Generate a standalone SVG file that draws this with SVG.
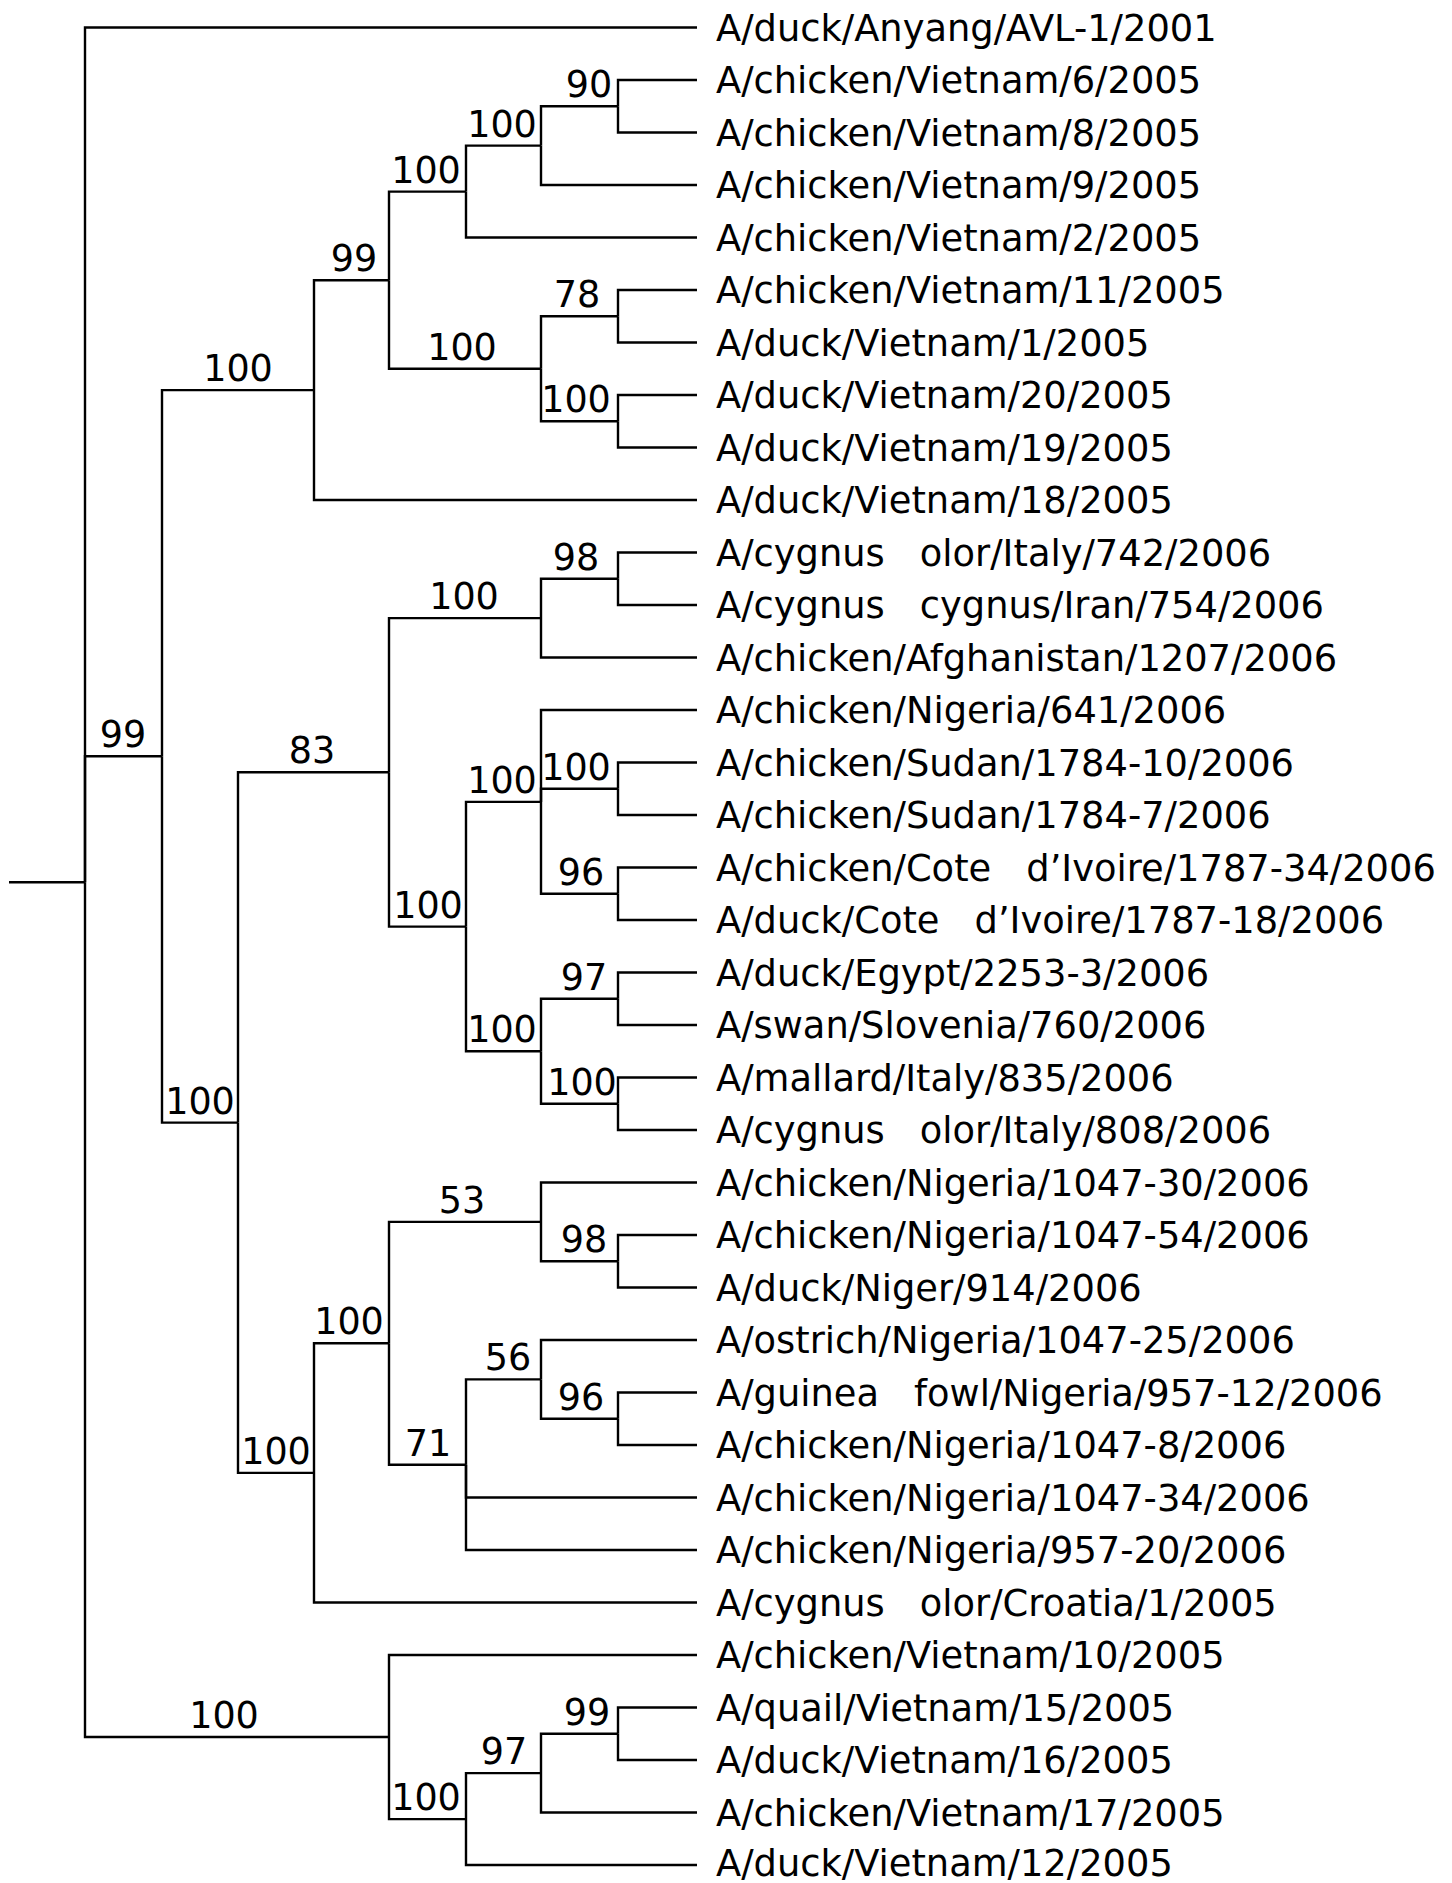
<svg xmlns="http://www.w3.org/2000/svg" width="1452" height="1883" viewBox="0 0 1452 1883">
<style>
.e{fill:none;stroke:#000;stroke-width:2.4;stroke-linecap:butt;stroke-linejoin:miter}
text{font-family:"DejaVu Sans","Liberation Sans",sans-serif;font-size:36.8px;fill:#000;white-space:pre}
.s{text-anchor:middle;font-size:36.5px}
</style>
<rect width="1452" height="1883" fill="#fff"/>
<g id="connectors">
<path class="e" d="M9 882.3H85"/>
<path class="e" d="M85 882.3V27.5H697"/>
<path class="e" d="M85 882.3V756.3H162"/>
<path class="e" d="M85 882.3V1737H389"/>
<path class="e" d="M162 756.3V390.1H314"/>
<path class="e" d="M162 756.3V1122.6H238"/>
<path class="e" d="M314 390.1V280.2H389"/>
<path class="e" d="M314 390.1V500H697"/>
<path class="e" d="M389 280.2V191.6H466"/>
<path class="e" d="M389 280.2V368.75H541"/>
<path class="e" d="M466 191.6V145.6H541"/>
<path class="e" d="M466 191.6V237.5H697"/>
<path class="e" d="M541 145.6V106.25H618"/>
<path class="e" d="M541 145.6V185H697"/>
<path class="e" d="M618 106.25V80H697"/>
<path class="e" d="M618 106.25V132.5H697"/>
<path class="e" d="M541 368.75V316.25H618"/>
<path class="e" d="M541 368.75V421.25H618"/>
<path class="e" d="M618 316.25V290H697"/>
<path class="e" d="M618 316.25V342.5H697"/>
<path class="e" d="M618 421.25V395H697"/>
<path class="e" d="M618 421.25V447.5H697"/>
<path class="e" d="M238 1122.6V772.3H389"/>
<path class="e" d="M238 1122.6V1472.9H314"/>
<path class="e" d="M389 772.3V618.1H541"/>
<path class="e" d="M389 772.3V926.6H466"/>
<path class="e" d="M541 618.1V578.75H618"/>
<path class="e" d="M541 618.1V657.5H697"/>
<path class="e" d="M618 578.75V552.5H697"/>
<path class="e" d="M618 578.75V605H697"/>
<path class="e" d="M466 926.6V801.9H541"/>
<path class="e" d="M466 926.6V1051.25H541"/>
<path class="e" d="M541 801.9V710H697"/>
<path class="e" d="M541 801.9V788.75H618"/>
<path class="e" d="M541 801.9V893.75H618"/>
<path class="e" d="M618 788.75V762.5H697"/>
<path class="e" d="M618 788.75V815H697"/>
<path class="e" d="M618 893.75V867.5H697"/>
<path class="e" d="M618 893.75V920H697"/>
<path class="e" d="M541 1051.25V998.75H618"/>
<path class="e" d="M541 1051.25V1103.75H618"/>
<path class="e" d="M618 998.75V972.5H697"/>
<path class="e" d="M618 998.75V1025H697"/>
<path class="e" d="M618 1103.75V1077.5H697"/>
<path class="e" d="M618 1103.75V1130H697"/>
<path class="e" d="M314 1472.9V1343.3H389"/>
<path class="e" d="M314 1472.9V1602.5H697"/>
<path class="e" d="M389 1343.3V1221.9H541"/>
<path class="e" d="M389 1343.3V1464.7H466"/>
<path class="e" d="M541 1221.9V1182.5H697"/>
<path class="e" d="M541 1221.9V1261.25H618"/>
<path class="e" d="M618 1261.25V1235H697"/>
<path class="e" d="M618 1261.25V1287.5H697"/>
<path class="e" d="M466 1464.7V1379.4H541"/>
<path class="e" d="M466 1464.7V1497.5H697"/>
<path class="e" d="M466 1464.7V1550H697"/>
<path class="e" d="M541 1379.4V1340H697"/>
<path class="e" d="M541 1379.4V1418.75H618"/>
<path class="e" d="M618 1418.75V1392.5H697"/>
<path class="e" d="M618 1418.75V1445H697"/>
<path class="e" d="M389 1737V1655H697"/>
<path class="e" d="M389 1737V1819.1H466"/>
<path class="e" d="M466 1819.1V1773.1H541"/>
<path class="e" d="M466 1819.1V1865H697"/>
<path class="e" d="M541 1773.1V1733.75H618"/>
<path class="e" d="M541 1773.1V1812.5H697"/>
<path class="e" d="M618 1733.75V1707.5H697"/>
<path class="e" d="M618 1733.75V1760H697"/>
</g>
<g id="supports">
<g id="nA"><text class="s" x="123" y="747.3">99</text></g>
<g id="nB"><text class="s" x="238" y="381.1">100</text></g>
<g id="nD"><text class="s" x="354" y="271.2">99</text></g>
<g id="nE"><text class="s" x="426" y="182.6">100</text></g>
<g id="nG"><text class="s" x="502" y="136.6">100</text></g>
<g id="nH"><text class="s" x="589" y="97.25">90</text></g>
<g id="nF"><text class="s" x="462" y="359.75">100</text></g>
<g id="nI"><text class="s" x="577" y="307.25">78</text></g>
<g id="nJ"><text class="s" x="576" y="412.25">100</text></g>
<g id="nC"><text class="s" x="200" y="1113.6">100</text></g>
<g id="nK"><text class="s" x="312" y="763.3">83</text></g>
<g id="nM"><text class="s" x="464" y="609.1">100</text></g>
<g id="nO"><text class="s" x="576" y="569.75">98</text></g>
<g id="nN"><text class="s" x="428" y="917.6">100</text></g>
<g id="nP"><text class="s" x="502" y="792.9">100</text></g>
<g id="nR"><text class="s" x="576" y="779.75">100</text></g>
<g id="nS"><text class="s" x="581" y="884.75">96</text></g>
<g id="nQ"><text class="s" x="502" y="1042.25">100</text></g>
<g id="nT"><text class="s" x="584" y="989.75">97</text></g>
<g id="nU"><text class="s" x="582" y="1094.75">100</text></g>
<g id="nL"><text class="s" x="276" y="1463.9">100</text></g>
<g id="nV"><text class="s" x="349" y="1334.3">100</text></g>
<g id="nW"><text class="s" x="462" y="1212.9">53</text></g>
<g id="nY"><text class="s" x="584" y="1252.25">98</text></g>
<g id="nX"><text class="s" x="428" y="1455.7">71</text></g>
<g id="nAA"><text class="s" x="508" y="1370.4">56</text></g>
<g id="nBB"><text class="s" x="581" y="1409.75">96</text></g>
<g id="nZ"><text class="s" x="224" y="1728">100</text></g>
<g id="nCC"><text class="s" x="426" y="1810.1">100</text></g>
<g id="nDD"><text class="s" x="504" y="1764.1">97</text></g>
<g id="nEE"><text class="s" x="587" y="1724.75">99</text></g>
</g>
<g id="leaves">
<g id="leaf1"><text x="716" y="40.5">A/duck/Anyang/AVL-1/2001</text></g>
<g id="leaf2"><text x="716" y="93">A/chicken/Vietnam/6/2005</text></g>
<g id="leaf3"><text x="716" y="145.5">A/chicken/Vietnam/8/2005</text></g>
<g id="leaf4"><text x="716" y="198">A/chicken/Vietnam/9/2005</text></g>
<g id="leaf5"><text x="716" y="250.5">A/chicken/Vietnam/2/2005</text></g>
<g id="leaf6"><text x="716" y="303">A/chicken/Vietnam/11/2005</text></g>
<g id="leaf7"><text x="716" y="355.5">A/duck/Vietnam/1/2005</text></g>
<g id="leaf8"><text x="716" y="408">A/duck/Vietnam/20/2005</text></g>
<g id="leaf9"><text x="716" y="460.5">A/duck/Vietnam/19/2005</text></g>
<g id="leaf10"><text x="716" y="513">A/duck/Vietnam/18/2005</text></g>
<g id="leaf11"><text x="716" y="565.5" xml:space="preserve">A/cygnus   olor/Italy/742/2006</text></g>
<g id="leaf12"><text x="716" y="618" xml:space="preserve">A/cygnus   cygnus/Iran/754/2006</text></g>
<g id="leaf13"><text x="716" y="670.5">A/chicken/Afghanistan/1207/2006</text></g>
<g id="leaf14"><text x="716" y="723">A/chicken/Nigeria/641/2006</text></g>
<g id="leaf15"><text x="716" y="775.5">A/chicken/Sudan/1784-10/2006</text></g>
<g id="leaf16"><text x="716" y="828">A/chicken/Sudan/1784-7/2006</text></g>
<g id="leaf17"><text x="716" y="880.5" xml:space="preserve">A/chicken/Cote   d’Ivoire/1787-34/2006</text></g>
<g id="leaf18"><text x="716" y="933" xml:space="preserve">A/duck/Cote   d’Ivoire/1787-18/2006</text></g>
<g id="leaf19"><text x="716" y="985.5">A/duck/Egypt/2253-3/2006</text></g>
<g id="leaf20"><text x="716" y="1038">A/swan/Slovenia/760/2006</text></g>
<g id="leaf21"><text x="716" y="1090.5">A/mallard/Italy/835/2006</text></g>
<g id="leaf22"><text x="716" y="1143" xml:space="preserve">A/cygnus   olor/Italy/808/2006</text></g>
<g id="leaf23"><text x="716" y="1195.5">A/chicken/Nigeria/1047-30/2006</text></g>
<g id="leaf24"><text x="716" y="1248">A/chicken/Nigeria/1047-54/2006</text></g>
<g id="leaf25"><text x="716" y="1300.5">A/duck/Niger/914/2006</text></g>
<g id="leaf26"><text x="716" y="1353">A/ostrich/Nigeria/1047-25/2006</text></g>
<g id="leaf27"><text x="716" y="1405.5" xml:space="preserve">A/guinea   fowl/Nigeria/957-12/2006</text></g>
<g id="leaf28"><text x="716" y="1458">A/chicken/Nigeria/1047-8/2006</text></g>
<g id="leaf29"><text x="716" y="1510.5">A/chicken/Nigeria/1047-34/2006</text></g>
<g id="leaf30"><text x="716" y="1563">A/chicken/Nigeria/957-20/2006</text></g>
<g id="leaf31"><text x="716" y="1615.5" xml:space="preserve">A/cygnus   olor/Croatia/1/2005</text></g>
<g id="leaf32"><text x="716" y="1668">A/chicken/Vietnam/10/2005</text></g>
<g id="leaf33"><text x="716" y="1720.5">A/quail/Vietnam/15/2005</text></g>
<g id="leaf34"><text x="716" y="1773">A/duck/Vietnam/16/2005</text></g>
<g id="leaf35"><text x="716" y="1825.5">A/chicken/Vietnam/17/2005</text></g>
<g id="leaf36"><text x="716" y="1876">A/duck/Vietnam/12/2005</text></g>
</g>
</svg>
